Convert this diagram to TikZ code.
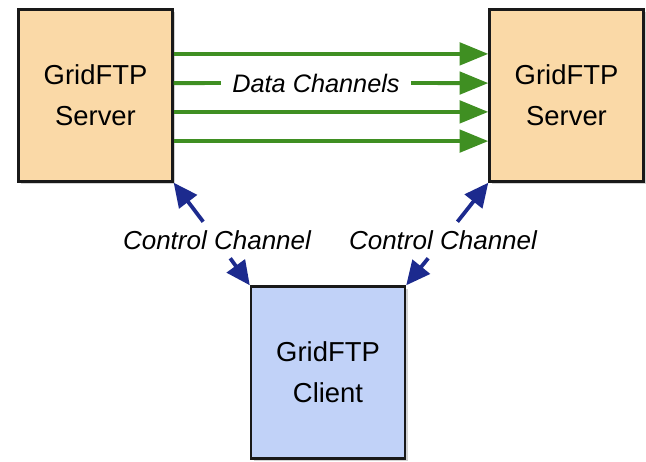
\documentclass[tikz,border=0pt]{standalone}
\usepackage{fontspec}
\setmainfont{Liberation Sans}
\usetikzlibrary{arrows.meta,shadows}
\definecolor{GridPeach}{HTML}{FAD9A7}
\definecolor{GridBlueLight}{HTML}{C1D2F8}
\definecolor{GridGreen}{HTML}{3F8F22}
\definecolor{GridNavy}{HTML}{1C2A8E}

\begin{document}
\begin{tikzpicture}[>=Stealth,
    box/.style={draw=black!90, line width=1.7pt, minimum width=3.85cm, minimum height=4.3cm,
        align=center, font=\fontsize{19.5}{29}\selectfont,
        drop shadow={shadow xshift=2pt, shadow yshift=-2pt, opacity=0.35}},
    chlabel/.style={font=\fontsize{18.5}{21}\selectfont\itshape, inner xsep=1pt, inner ysep=6pt},
    datach/.style={GridGreen, line width=2.8pt, -{Triangle[length=0.72cm, width=0.56cm]}},
    ctrlch/.style={GridNavy, line width=2.7pt, -{Triangle[length=0.6cm, width=0.55cm]}}]

    \useasboundingbox (0,0) rectangle (16.15,-11.525);

    % ========== Servers and client ==========
    \node[box, fill=GridPeach] (srvA) at (2.3875,-2.3875) {GridFTP\\Server};
    \node[box, fill=GridPeach] (srvB) at (14.1625,-2.3875) {GridFTP\\Server};
    \node[box, fill=GridBlueLight] (client) at (8.2,-9.3125) {GridFTP\\Client};

    % ========== Data channels ==========
    \node[chlabel, font=\fontsize{18}{21}\selectfont\itshape, inner xsep=8pt] (datalbl) at (7.9,-2.075) {Data Channels};
    \draw[datach] ([yshift=1.04cm]srvA.east) -- ([yshift=1.04cm]srvB.west);
    \draw[datach, -] ([yshift=0.31cm]srvA.east) -- (datalbl.west);
    \draw[datach] (datalbl.east) -- ([yshift=0.31cm]srvB.west);
    \draw[datach] ([yshift=-0.41cm]srvA.east) -- ([yshift=-0.41cm]srvB.west);
    \draw[datach] ([yshift=-1.14cm]srvA.east) -- ([yshift=-1.14cm]srvB.west);

    % ========== Control channels ==========
    \node[chlabel] (ctrlA) at (5.425,-6) {Control Channel};
    \node[chlabel] (ctrlB) at (11.075,-6) {Control Channel};
    \draw[ctrlch] (ctrlA) -- (srvA.south east);
    \draw[ctrlch] (ctrlA) -- (client.north west);
    \draw[ctrlch] (ctrlB) -- (srvB.south west);
    \draw[ctrlch] (ctrlB) -- (client.north east);

\end{tikzpicture}
\end{document}
